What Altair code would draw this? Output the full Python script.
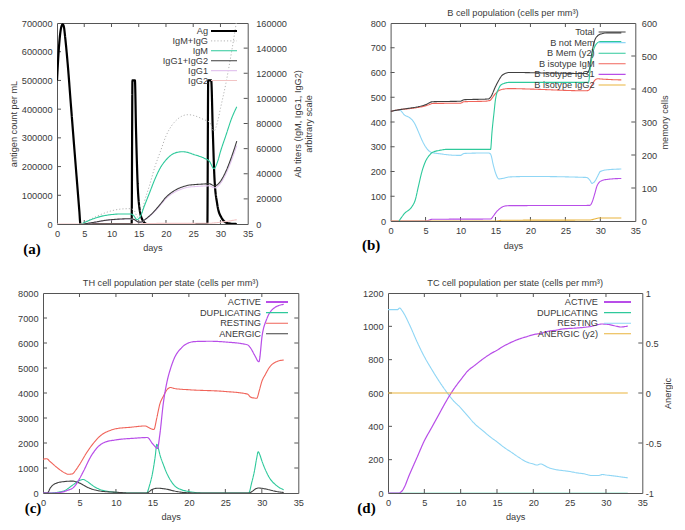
import altair as alt
import pandas as pd

FONT = "Liberation Sans"
SERIF = "Liberation Serif"
FS = 9.2
TXT = "#3a3a3a"
FRAME = "#555555"

DAYS_TICKS = [0, 5, 10, 15, 20, 25, 30, 35]

# ---------------- Panel (a) ----------------
A_LEFT_TICKS = [0, 100000, 200000, 300000, 400000, 500000, 600000, 700000]
A_RIGHT_TICKS = [0, 20000, 40000, 60000, 80000, 100000, 120000, 140000, 160000]
A_NAMES = ["Ag", "IgM+IgG", "IgM", "IgG1+IgG2", "IgG1", "IgG2"]
A_COLORS = ["#000000", "#b4b4b4", "#2ec99b", "#3c3c3c", "#e3c6ef", "#f2c4c4"]

AG_DAY = [0, 0.3, 0.6, 0.85, 1.05, 1.25, 1.5, 1.96, 2.57, 3.18, 3.8, 4.1, 4.3,
          13.7, 13.85, 14.3, 14.5, 14.8, 15.1, 15.7, 16.5,
          27.6, 27.75, 28.3, 28.6, 28.9, 29.4, 30.1, 31.3, 33.0]
AG_VAL = [500000, 600000, 665000, 690000, 695000, 688000, 650000, 558000, 410000, 263000, 116000, 45000, 0,
          0, 500000, 500000, 330000, 140000, 60000, 14000, 0,
          0, 500000, 500000, 320000, 160000, 70000, 25000, 3000, 0]

SUM_DAY = [4.3, 6, 8, 10, 12, 13.5, 14.2, 14.8, 15.5, 16, 17, 18, 19, 20, 21, 22, 23, 24, 25, 26, 27, 28, 28.8,
           29.5, 30, 31, 32, 32.9]
SUM_VAL = [0, 3500, 7500, 10500, 12000, 12200, 10500, 5500, 8000, 17000, 31000, 46000, 58000, 70000, 78000,
           83000, 86000, 87000, 86500, 85000, 83000, 81000, 74000, 82000, 92000, 112000, 136000, 160000]

IGM_DAY = [4.5, 6, 8, 10, 12, 13.5, 14.0, 14.7, 15.3, 16, 17, 18, 19, 20, 21, 22, 23, 24, 25, 27, 28, 28.8,
           29.5, 30, 31, 32, 33]
IGM_VAL = [0, 3000, 6000, 7500, 8000, 8000, 7000, 3500, 6000, 14000, 25000, 36000, 45000, 51000, 55000,
           57000, 57500, 57000, 55500, 52400, 49800, 44100, 50000, 57600, 70500, 83500, 93400]

IGG_DAY = [5, 7, 9, 11, 13.5, 14.2, 15, 15.5, 16, 17, 18, 19, 20, 21, 22, 23, 24, 25, 26, 28, 28.9,
           29.5, 30, 31, 32, 33]
IGG_VAL = [0, 1500, 3000, 3800, 4200, 3500, 1500, 1600, 3100, 6500, 10900, 16000, 21300, 25000, 27700,
           29500, 30800, 31300, 31600, 32000, 30300, 31500, 34000, 42000, 53000, 66000]

IGG1_DAY = IGG_DAY
IGG1_VAL = [0, 1400, 2800, 3600, 4000, 3300, 1400, 1500, 2900, 6100, 10300, 15200, 20200, 23800, 26300,
            28000, 29300, 29700, 30000, 30400, 28800, 29900, 32300, 39900, 50300, 62600]

IGG2_DAY = [0, 15, 16, 28, 29, 30, 31, 32, 33]
IGG2_VAL = [0, 0, 400, 600, 900, 1400, 2000, 2700, 3400]

# ---------------- Panel (b) ----------------
B_LEFT_TICKS = [0, 100, 200, 300, 400, 500, 600, 700, 800]
B_RIGHT_TICKS = [0, 100, 200, 300, 400, 500, 600]
B_NAMES = ["Total", "B not Mem", "B Mem (y2)", "B isotype IgM", "B isotype IgG1", "B isotype IgG2"]
B_COLORS = ["#404040", "#8fd6f5", "#2ec99b", "#f0645a", "#b84ee8", "#e9b43c"]

TOT_DAY = [0, 1.3, 2.5, 4, 5, 6, 10, 10.5, 14, 14.3, 15, 15.5, 16, 17, 18, 22, 28, 28.4, 28.8, 29.2,
           29.6, 30, 31, 33]
TOT_VAL = [443, 450, 455, 462, 470, 482, 484, 490, 493, 500, 543, 570, 590, 600, 600, 598, 596, 610, 680,
           730, 748, 755, 760, 760]

NM_DAY = [0, 1.3, 2, 2.7, 3.4, 4, 4.5, 5, 5.5, 6, 7, 8, 10, 10.5, 14, 14.3, 14.7, 15, 15.5, 16, 17, 20,
          28, 28.5, 28.8, 29.2, 29.6, 30, 31, 33]
NM_VAL = [443, 448, 428, 418, 396, 359, 326, 300, 283, 276, 272, 268, 265, 273, 275, 270, 225, 195, 170,
          172, 178, 180, 176, 165, 152, 160, 180, 200, 207, 210]

MEM_DAY = [1.2, 2, 3, 3.5, 4, 4.5, 5, 5.5, 6, 7, 8, 14.3, 14.5, 14.8, 15, 15.5, 16, 17, 28.3, 28.6, 29,
           29.5, 30, 33]
MEM_VAL = [0, 23, 42, 62, 107, 151, 181, 198, 208, 214, 217, 217, 269, 330, 368, 403, 415, 420, 420, 470,
           516, 538, 544, 544]

BIGM_DAY = [0, 1.3, 3, 4.5, 5.5, 6, 10, 10.5, 13.5, 14.2, 14.6, 15, 15.5, 16, 17, 20, 28, 28.4, 28.8,
            29.2, 29.6, 30, 33]
BIGM_VAL = [443, 450, 455, 462, 470, 475, 476, 482, 484, 487, 500, 515, 527, 532, 535, 533, 526, 530, 550,
            568, 575, 574, 570]

BIG1_DAY = [0, 5, 6, 14.3, 14.7, 15, 15.5, 16, 16.5, 17, 28.5, 28.8, 29.2, 29.5, 29.8, 30.2, 31, 33]
BIG1_VAL = [0, 0, 7, 8, 20, 32, 47, 57, 61, 62, 63, 75, 110, 140, 155, 163, 168, 172]

BIG2_DAY = [0, 15, 16, 28.5, 29.2, 29.8, 33]
BIG2_VAL = [0, 0, 3, 4, 8, 12, 12]

# ---------------- Panel (c) ----------------
C_TICKS = [0, 1000, 2000, 3000, 4000, 5000, 6000, 7000, 8000]
C_NAMES = ["ACTIVE", "DUPLICATING", "RESTING", "ANERGIC"]
C_COLORS = ["#b84ee8", "#2ec99b", "#f0645a", "#404040"]

ACT_DAY = [0, 1.5, 2.5, 3.3, 4.25, 5, 5.6, 6.5, 7.45, 8.4, 10, 12.5, 14.3, 15, 15.5, 15.7, 16, 16.5, 17,
           17.5, 18, 19, 20, 21, 23, 25, 28, 28.5, 29, 29.6, 30.05, 30.7, 31.6, 33]
ACT_VAL = [0, 0, 30, 100, 240, 570, 900, 1430, 1820, 2020, 2125, 2190, 2220, 1980, 1820, 1780, 2300, 3600,
           4450, 4990, 5390, 5810, 6010, 6060, 6070, 6040, 5930, 5780, 5520, 5250, 6310, 6980, 7380, 7550]

DUP_DAY = [0, 1, 2, 3, 4, 5, 5.5, 6, 7, 8, 9, 10, 11, 14.2, 14.6, 15, 15.4, 15.6, 15.8, 16, 16.5, 17,
           17.5, 18, 19, 20, 22, 28.2, 28.6, 29, 29.3, 29.5, 29.7, 30, 31, 32, 33]
DUP_VAL = [0, 0, 30, 100, 300, 500, 540, 470, 260, 120, 60, 25, 0, 0, 300, 770, 1500, 1950, 1800, 1560,
           1135, 770, 500, 300, 130, 60, 0, 0, 400, 900, 1400, 1650, 1550, 1290, 630, 300, 130]

RES_DAY = [0, 0.5, 1, 2, 3, 3.5, 4, 4.5, 5, 6, 7, 8, 9, 10, 12, 14, 14.6, 15.2, 15.6, 16, 16.5, 17, 17.5,
           18, 20, 25, 28, 28.5, 29.3, 29.7, 30, 30.5, 31, 32, 33]
RES_VAL = [1350, 1370, 1250, 1000, 800, 750, 760, 920, 1135, 1620, 2020, 2320, 2480, 2570, 2630, 2680,
           2600, 2540, 3000, 3540, 3870, 4130, 4220, 4180, 4130, 4060, 3960, 3830, 3790, 4150, 4460, 4750,
           5010, 5250, 5320]

ANE_DAY = [0, 0.6, 1, 2, 3, 4, 5, 6, 7, 8, 10, 12, 14.2, 15, 15.7, 17, 18, 19, 21, 28.2, 29.5, 31, 32, 33]
ANE_VAL = [0, 0, 200, 410, 460, 475, 400, 240, 130, 70, 30, 0, 0, 145, 190, 150, 80, 30, 0, 0, 200, 130,
           60, 20]

# ---------------- Panel (d) ----------------
D_LEFT_TICKS = [0, 200, 400, 600, 800, 1000, 1200]
D_RIGHT_TICKS = [-1, -0.5, 0, 0.5, 1]
D_NAMES = ["ACTIVE", "DUPLICATING", "RESTING", "ANERGIC (y2)"]
D_COLORS = ["#b84ee8", "#2ec99b", "#8fd6f5", "#e9b43c"]

TCA_DAY = [0, 1.5, 2, 3, 4, 5, 6, 7, 8, 9, 10, 11, 12, 13, 14, 15, 16, 17, 18, 19, 20, 21, 22, 23, 24,
           26, 28, 29.5, 30.5, 31.5, 32, 33]
TCA_VAL = [0, 0, 16, 115, 214, 313, 392, 471, 550, 620, 679, 733, 768, 802, 832, 857, 883, 905, 923, 937,
           950, 958, 970, 976, 984, 990, 1000, 1014, 1010, 1000, 996, 1002]

TCD_DAY = [0, 33]
TCD_VAL = [0, 0]

TCR_DAY = [0, 1.3, 1.6, 2, 3, 4, 5, 6, 7, 8, 9, 10, 11, 12, 13, 14, 15, 16, 17, 18, 19, 20, 20.5, 21, 22,
           23, 24, 25, 26, 27, 28, 29, 29.5, 30, 31, 32, 33]
TCR_VAL = [1100, 1100, 1110, 1090, 1006, 907, 818, 743, 673, 610, 554, 511, 461, 412, 376, 339, 307, 273,
           244, 214, 188, 174, 168, 174, 154, 141, 135, 129, 121, 115, 105, 105, 111, 108, 103, 97, 91]

TCN_DAY = [0, 33]
TCN_VAL = [0, 0]

ONE = pd.DataFrame({"k": [0]})
TICK_LEN = 4


def xenc(title_pad):
    return alt.X("day:Q", scale=alt.Scale(domain=[0, 35], nice=False, zero=False),
                 axis=alt.Axis(values=DAYS_TICKS, title="days", labelExpr="datum.value + ''",
                               labelFlush=False, titlePadding=title_pad, labelPadding=5))


def yenc(dom, ticks, title, orient, title_pad, label_pad):
    kw = dict(values=ticks, title=title, orient=orient, labelExpr="datum.value + ''",
              titlePadding=title_pad, labelPadding=label_pad, titleAngle=-90, labelFlush=False)
    kw["titleBaseline"] = "top" if orient == "right" else "bottom"
    return alt.Y("v:Q", scale=alt.Scale(domain=dom, nice=False, zero=False), axis=alt.Axis(**kw))


def lines(series, xe, ye):
    out = []
    for xs, ys, color, w, dash in series:
        out.append(alt.Chart(pd.DataFrame({"day": xs, "v": ys})).mark_line(
            color=color, strokeWidth=w, strokeDash=dash, interpolate="monotone", clip=True
        ).encode(x=xe, y=ye))
    return out


def xticks(xe, h):
    d = pd.DataFrame({"day": DAYS_TICKS[1:-1]})
    return [alt.Chart(d).mark_rule(color=FRAME, strokeWidth=1).encode(
                x=xe, y=alt.value(h), y2=alt.value(h - TICK_LEN)),
            alt.Chart(d).mark_rule(color=FRAME, strokeWidth=1).encode(
                x=xe, y=alt.value(0), y2=alt.value(TICK_LEN))]


def yticks(ye, ticks, x0, x1):
    d = pd.DataFrame({"v": ticks[1:-1]})
    return [alt.Chart(d).mark_rule(color=FRAME, strokeWidth=1).encode(
        y=ye, x=alt.value(x0), x2=alt.value(x1))]


def legend(names, colors, widths, dashes, xt, x0, x1, y0, dy):
    out = []
    for i, (n, c, w, d) in enumerate(zip(names, colors, widths, dashes)):
        y = y0 + i * dy
        out.append(alt.Chart(ONE).mark_rule(color=c, strokeWidth=w, strokeDash=d).encode(
            x=alt.value(x0), x2=alt.value(x1), y=alt.value(y)))
        out.append(alt.Chart(ONE).mark_text(align="right", baseline="middle", font=FONT, fontSize=FS,
                                            color=TXT).encode(
            x=alt.value(xt), y=alt.value(y), text=alt.value(n)))
    return out


def plabel(txt, dx, dy):
    return alt.Chart(ONE).mark_text(font=SERIF, fontSize=15, fontWeight="bold", color="#000",
                                    align="center", baseline="middle").encode(
        x=alt.value(dx), y=alt.value(dy), text=alt.value(txt))


def ttl(text):
    return alt.TitleParams(text=text, font=FONT, fontSize=FS, fontWeight="normal", color=TXT, offset=1,
                           anchor="middle")


SOLID = [1, 0]
DOT = [1.2, 2]

# ---- panel a ----
WA, HA = 190.7, 201
xa = xenc(5)
ya_l = yenc([0, 700000], A_LEFT_TICKS, "antigen count per mL", "left", 3, 5)
ya_r = yenc([0, 160000], A_RIGHT_TICKS, ["Ab titers (IgM, IgG1, IgG2)", "arbitrary scale"], "right", -4, 8)
a_left = alt.layer(
    *xticks(xa, HA), *yticks(ya_l, A_LEFT_TICKS, 0, TICK_LEN),
    *lines([(AG_DAY, AG_VAL, A_COLORS[0], 2.2, SOLID)], xa, ya_l))
a_right = alt.layer(
    *yticks(ya_r, A_RIGHT_TICKS, WA, WA - TICK_LEN),
    *lines([(SUM_DAY, SUM_VAL, A_COLORS[1], 1, DOT),
            (IGM_DAY, IGM_VAL, A_COLORS[2], 1.1, SOLID),
            (IGG1_DAY, IGG1_VAL, A_COLORS[4], 1.1, SOLID),
            (IGG2_DAY, IGG2_VAL, A_COLORS[5], 1.1, SOLID),
            (IGG_DAY, IGG_VAL, A_COLORS[3], 1.1, SOLID)], xa, ya_r),
    *legend(A_NAMES, A_COLORS, [2.2, 1, 1.1, 1.1, 1.1, 1.1], [SOLID, DOT, SOLID, SOLID, SOLID, SOLID],
            151, 154, 180, 8, 9.9),
    plabel("(a)", -25, HA + 25),
)
panel_a = alt.layer(a_left, a_right).resolve_scale(y="independent").properties(width=WA, height=HA)

# ---- panel b ----
WB, HB = 244.7, 198
xb = xenc(6)
yb_l = yenc([0, 800], B_LEFT_TICKS, "", "left", 3, 5)
yb_r = yenc([0, 600], B_RIGHT_TICKS, "memory cells", "right", 4, 6)
b_left = alt.layer(
    *xticks(xb, HB), *yticks(yb_l, B_LEFT_TICKS, 0, TICK_LEN),
    *lines([(NM_DAY, NM_VAL, B_COLORS[1], 1.1, SOLID),
            (BIGM_DAY, BIGM_VAL, B_COLORS[3], 1.1, SOLID),
            (BIG1_DAY, BIG1_VAL, B_COLORS[4], 1.1, SOLID),
            (BIG2_DAY, BIG2_VAL, B_COLORS[5], 1.1, SOLID),
            (TOT_DAY, TOT_VAL, B_COLORS[0], 1.1, SOLID)], xb, yb_l))
b_right = alt.layer(
    *yticks(yb_r, B_RIGHT_TICKS, WB, WB - TICK_LEN),
    *lines([(MEM_DAY, MEM_VAL, B_COLORS[2], 1.1, SOLID)], xb, yb_r),
    *legend(B_NAMES, B_COLORS, [1.1] * 6, [SOLID] * 6, 204, 208, 235, 9, 10.6),
    plabel("(b)", -19.5, HB + 24),
)
panel_b = alt.layer(b_left, b_right).resolve_scale(y="independent").properties(
    width=WB, height=HB, title=ttl("B cell population (cells per mm³)"))

# ---- panel c ----
WC, HC = 255.3, 200
xc = xenc(5)
yc = yenc([0, 8000], C_TICKS, "", "left", 3, 5)
panel_c = alt.layer(
    *xticks(xc, HC), *yticks(yc, C_TICKS, 0, TICK_LEN), *yticks(yc, C_TICKS, WC, WC - TICK_LEN),
    *lines([(DUP_DAY, DUP_VAL, C_COLORS[1], 1.1, SOLID),
            (ANE_DAY, ANE_VAL, C_COLORS[3], 1.1, SOLID),
            (RES_DAY, RES_VAL, C_COLORS[2], 1.1, SOLID),
            (ACT_DAY, ACT_VAL, C_COLORS[0], 1.2, SOLID)], xc, yc),
    *legend(C_NAMES, C_COLORS, [2, 1.1, 1.1, 1.1], [SOLID] * 4, 218, 223, 245, 9, 10.6),
    plabel("(c)", -10, HC + 15),
).properties(width=WC, height=HC, title=ttl("TH cell population per state (cells per mm³)"))

# ---- panel d ----
WD, HD = 254.3, 200
xd = xenc(5)
yd_l = yenc([0, 1200], D_LEFT_TICKS, "", "left", 3, 5)
yd_r = yenc([-1, 1], D_RIGHT_TICKS, "Anergic", "right", 2, 3)
d_left = alt.layer(
    *lines([(TCD_DAY, TCD_VAL, D_COLORS[1], 0.5, SOLID)], xd, yd_l),
    *xticks(xd, HD), *yticks(yd_l, D_LEFT_TICKS, 0, TICK_LEN),
    *lines([(TCR_DAY, TCR_VAL, D_COLORS[2], 1.1, SOLID),
            (TCA_DAY, TCA_VAL, D_COLORS[0], 1.2, SOLID)], xd, yd_l))
d_right = alt.layer(
    *yticks(yd_r, D_RIGHT_TICKS, WD, WD - TICK_LEN),
    *lines([(TCN_DAY, TCN_VAL, D_COLORS[3], 1.1, SOLID)], xd, yd_r),
    *legend(D_NAMES, D_COLORS, [2, 1.1, 1.1, 1.1], [SOLID] * 4, 210, 216, 243, 9, 10.6),
    plabel("(d)", -21.5, HD + 15),
)
panel_d = alt.layer(d_left, d_right).resolve_scale(y="independent").properties(
    width=WD, height=HD, title=ttl("TC cell population per state (cells per mm³)"))

spacer = alt.Chart(ONE).mark_point(opacity=0).encode(x=alt.value(0), y=alt.value(0)).properties(
    width=13.7, height=1, view=alt.ViewBackground(stroke="transparent"))

row1 = alt.hconcat(spacer, alt.hconcat(panel_a, panel_b, spacing=142.6, bounds="flush"),
                   spacing=0, bounds="flush")
row2 = alt.hconcat(panel_c, panel_d, spacing=89, bounds="flush")

chart = alt.vconcat(row1, row2, spacing=20).properties(
    padding={"left": 0, "right": 0, "top": 0, "bottom": 0}
).configure_axis(
    labelFont=FONT, labelFontSize=FS, labelColor=TXT, titleFont=FONT, titleFontSize=FS,
    titleFontWeight="normal", titleColor=TXT, ticks=False, domain=False, grid=False
).configure_view(stroke=FRAME, strokeWidth=1)

chart.save("out.html", embed_options={"renderer": "svg", "actions": False})
